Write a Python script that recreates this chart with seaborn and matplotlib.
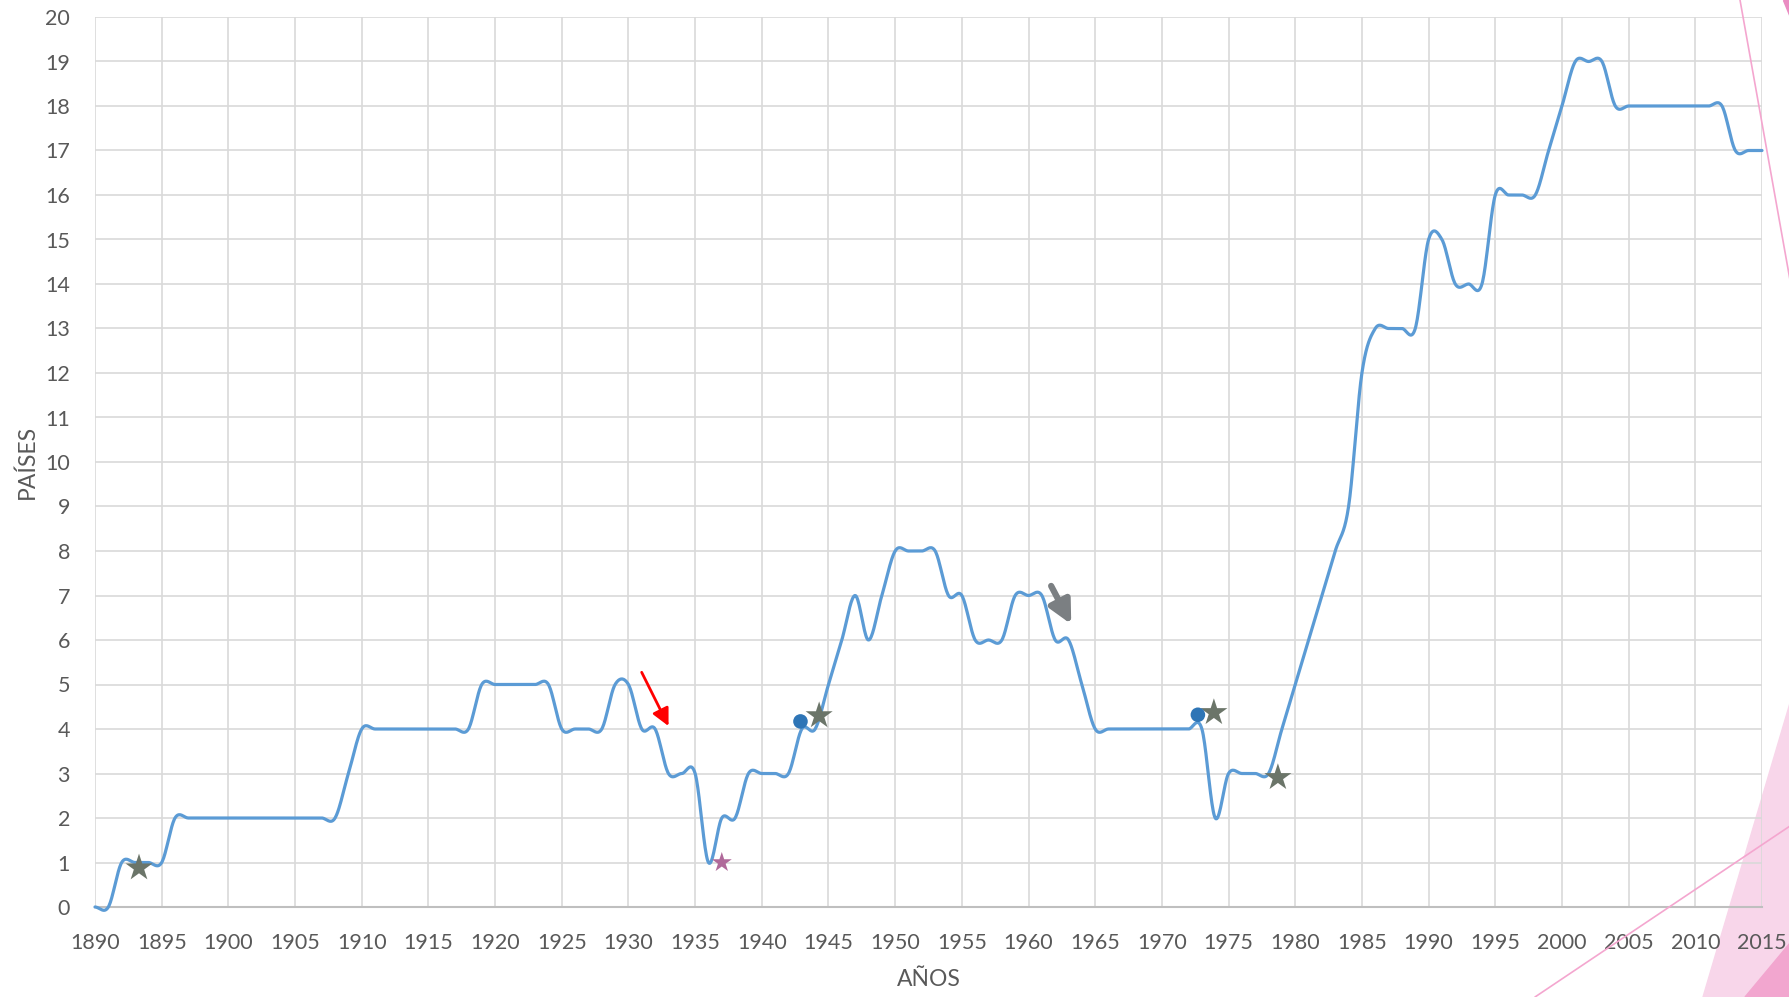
import numpy as np
import pandas as pd
import seaborn as sns
import matplotlib.pyplot as plt
from matplotlib.patches import Polygon
from matplotlib.lines import Line2D

sns.set_style("white")
plt.rcParams["font.family"] = ["Lato", "DejaVu Sans"]

# datos anuales (número de países)
years = list(range(1890, 2016))
paises = [0, 0, 1, 1, 1, 1, 2, 2, 2, 2,
          2, 2, 2, 2, 2, 2, 2, 2, 2, 3,
          4, 4, 4, 4, 4, 4, 4, 4, 4, 5,
          5, 5, 5, 5, 5, 4, 4, 4, 4, 5,
          5, 4, 4, 3, 3, 3, 1, 2, 2, 3,
          3, 3, 3, 4, 4, 5, 6, 7, 6, 7,
          8, 8, 8, 8, 7, 7, 6, 6, 6, 7,
          7, 7, 6, 6, 5, 4, 4, 4, 4, 4,
          4, 4, 4, 4, 2, 3, 3, 3, 3, 4,
          5, 6, 7, 8, 9, 12, 13, 13, 13, 13,
          15, 15, 14, 14, 14, 16, 16, 16, 16, 17,
          18, 19, 19, 19, 18, 18, 18, 18, 18, 18,
          18, 18, 18, 17, 17, 17]

# marcas
star_x = [1893.3, 1944.3, 1973.9, 1978.7]
star_y = [0.88, 4.30, 4.37, 2.91]
pink_star_x = [1937.0]
pink_star_y = [1.0]
dot_x = [1942.9, 1972.7]
dot_y = [4.17, 4.32]


def smooth(xs, ys, n=20):
    # suavizado tipo Excel (Catmull-Rom)
    xs = np.asarray(xs, float)
    ys = np.asarray(ys, float)
    m = np.zeros_like(ys)
    m[1:-1] = (ys[2:] - ys[:-2]) / 2
    ox, oy = [], []
    for i in range(len(xs) - 1):
        t = np.linspace(0, 1, n, endpoint=False)
        h00 = 2 * t**3 - 3 * t**2 + 1
        h10 = t**3 - 2 * t**2 + t
        h01 = -2 * t**3 + 3 * t**2
        h11 = t**3 - t**2
        ox.extend(xs[i] + t * (xs[i + 1] - xs[i]))
        oy.extend(h00 * ys[i] + h10 * m[i] + h01 * ys[i + 1] + h11 * m[i + 1])
    ox.append(xs[-1])
    oy.append(ys[-1])
    return np.array(ox), np.array(oy)


sx, sy = smooth(years, paises)
df = pd.DataFrame({"x": sx, "y": sy})

W, H = 1790, 997
fig = plt.figure(figsize=(W / 100, H / 100), dpi=100)
ax = fig.add_axes([95 / W, 1 - 907 / H, (1762 - 95) / W, (907 - 17) / H])
ax.set_facecolor("none")

sns.lineplot(data=df, x="x", y="y", ax=ax, color="#5b9bd5", lw=2.3, zorder=3)
ax.lines[-1].set_clip_on(False)

sns.scatterplot(x=star_x, y=star_y, ax=ax, marker="*", s=420, color="#6b7569",
                edgecolor="none", zorder=4, clip_on=False)
sns.scatterplot(x=pink_star_x, y=pink_star_y, ax=ax, marker="*", s=230, color="#b0699a",
                edgecolor="none", zorder=4)
sns.scatterplot(x=dot_x, y=dot_y, ax=ax, marker="o", s=110, color="#2e75b6",
                edgecolor="none", zorder=4)

ax.annotate("", xy=(1933.1, 4.01), xytext=(1930.9, 5.33),
            arrowprops=dict(arrowstyle="-|>", color="#ff0000", lw=2, mutation_scale=26))
ax.annotate("", xy=(1963.3, 6.3), xytext=(1961.6, 7.27),
            arrowprops=dict(arrowstyle="-|>", color="#7b7f82", lw=4.5, mutation_scale=34))

ax.set_xlim(1890, 2015)
ax.set_ylim(0, 20)
ax.set_xticks(range(1890, 2016, 5))
ax.set_yticks(range(0, 21))
ax.grid(True, color="#d9d9d9", lw=1.2)
ax.tick_params(length=0, labelsize=15.5, labelcolor="#595959")
ax.tick_params(axis="x", pad=19)
ax.tick_params(axis="y", pad=18)
for s in ["left", "top", "right"]:
    ax.spines[s].set_visible(False)
ax.spines["bottom"].set_color("#bfbfbf")
ax.spines["bottom"].set_linewidth(1.5)
ax.set_xlabel("AÑOS", fontsize=16.5, color="#595959", labelpad=11)
ax.set_ylabel("PAÍSES", fontsize=16.5, color="#595959", labelpad=5)


def fp(x, y):
    return (x / W, 1 - y / H)


# adornos rosas de la diapositiva
fig.add_artist(Polygon([fp(1703, 997), fp(1790, 703), fp(1790, 997)], closed=True,
                       transform=fig.transFigure, color="#f8d6ea", zorder=0))
fig.add_artist(Polygon([fp(1745, 997), fp(1790, 943), fp(1790, 997)], closed=True,
                       transform=fig.transFigure, color="#f2a6cf", zorder=0))
fig.add_artist(Polygon([fp(1783, 0), fp(1790, 0), fp(1790, 17)], closed=True,
                       transform=fig.transFigure, color="#ea8cc2", zorder=0))
fig.add_artist(Line2D([1535 / W, 1], [0, 1 - 826 / H], transform=fig.transFigure,
                      color="#f4a6cf", lw=1.2))
fig.add_artist(Line2D([1740 / W, 1], [1, 1 - 280 / H], transform=fig.transFigure,
                      color="#f4a6cf", lw=1.2))

fig.savefig("out.png", dpi=100)
